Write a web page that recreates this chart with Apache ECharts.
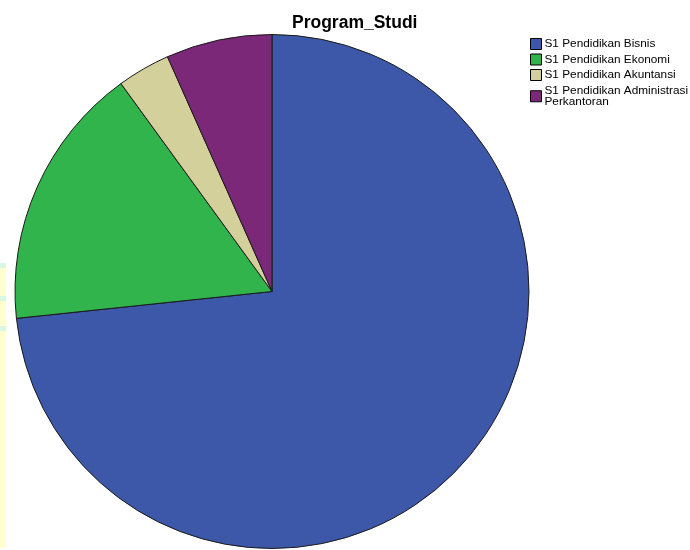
<!DOCTYPE html>
<html>
<head>
<meta charset="utf-8">
<script src="https://cdn.jsdelivr.net/npm/echarts@6/dist/echarts.min.js"></script>
<style>
  html, body { margin: 0; padding: 0; background: #fff; }
  #chart { width: 690px; height: 550px; }
</style>
</head>
<body>
<div id="chart"></div>
<script>
  // data
  var categories = ['S1 Pendidikan Bisnis', 'S1 Pendidikan Ekonomi', 'S1 Pendidikan Akuntansi', 'S1 Pendidikan Administrasi Perkantoran']
  var counts = [22, 5, 1, 2]
  var colors = ['#3d57a9', '#31b44b', '#d4d09b', '#7b2878']

  var pieData = categories.map(function (name, i) {
    return { name: name, value: counts[i], itemStyle: { color: colors[i] } }
  })

  var myChart = echarts.init(document.getElementById('chart'))
  var option = {
    animation: false,
    title: {
      text: 'Program_Studi',
      left: 287,
      top: 9,
      textStyle: { fontFamily: 'Liberation Sans', fontSize: 17.5, fontWeight: 'bold', color: '#000' }
    },
    // faint strip at the left edge of the screenshot
    graphic: [
      { type: 'rect', left: 0, top: 263, shape: { width: 6, height: 285 }, style: { fill: '#fffdd2' }, z: -1 },
      { type: 'rect', left: 0, top: 263, shape: { width: 6, height: 5 }, style: { fill: '#d8f8e0' }, z: -1 },
      { type: 'rect', left: 0, top: 296, shape: { width: 6, height: 5 }, style: { fill: '#d8f8e0' }, z: -1 },
      { type: 'rect', left: 0, top: 326, shape: { width: 6, height: 5 }, style: { fill: '#d8f8e0' }, z: -1 }
    ],
    legend: {
      orient: 'vertical',
      left: 530,
      top: 38,
      padding: 0,
      itemWidth: 11,
      itemHeight: 11,
      itemGap: 3.5,
      icon: 'rect',
      itemStyle: { borderColor: '#000', borderWidth: 1 },
      textStyle: { fontFamily: 'Liberation Sans', fontSize: 11.8, color: '#000', lineHeight: 11.5, padding: [0, 0, 0, -2] },
      formatter: function (name) {
        return name === 'S1 Pendidikan Administrasi Perkantoran' ? 'S1 Pendidikan Administrasi\nPerkantoran' : name
      },
      data: categories
    },
    series: [
      {
        name: 'Program_Studi',
        type: 'pie',
        center: [272, 291.5],
        radius: [0, 257],
        startAngle: 90,
        clockwise: true,
        label: { show: false },
        labelLine: { show: false },
        itemStyle: { borderColor: '#1a1a1a', borderWidth: 1 },
        data: pieData
      }
    ]
  }
  myChart.setOption(option, true)
</script>
</body>
</html>
